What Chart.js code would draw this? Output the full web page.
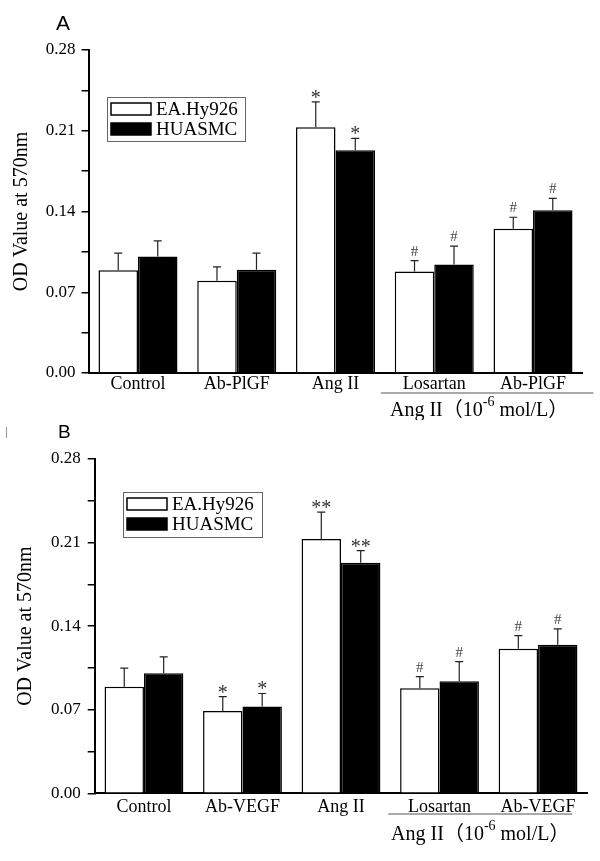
<!DOCTYPE html>
<html><head><meta charset="utf-8">
<script src="https://cdn.jsdelivr.net/npm/chart.js@4/dist/chart.umd.min.js"></script>
<style>
html,body{margin:0;padding:0;background:#fff;width:600px;height:861px;overflow:hidden}
.wrap{position:absolute;left:0;width:600px}
#wa{top:0;height:420px}
#wb{top:420px;height:441px}
canvas{display:block}
</style></head><body>
<div class="wrap" id="wa"><canvas id="ca" width="600" height="420"></canvas></div>
<div class="wrap" id="wb"><canvas id="cb" width="600" height="441"></canvas></div>
<script>
// ---------- data ----------
const seriesNames = ['EA.Hy926', 'HUASMC'];
const categoriesA = ['Control', 'Ab-PlGF', 'Ang II', 'Losartan', 'Ab-PlGF'];
const categoriesB = ['Control', 'Ab-VEGF', 'Ang II', 'Losartan', 'Ab-VEGF'];
const yTicks = [0.00, 0.07, 0.14, 0.21, 0.28];
const yTitle = 'OD Value at 570nm';
const groupLabel = ['Ang II（10', '-6', ' mol/L）'];

const eaA    = [0.089, 0.080, 0.213, 0.088, 0.125];
const eaAErr = [0.015, 0.012, 0.022, 0.0095, 0.010];
const huA    = [0.101, 0.0895, 0.193, 0.094, 0.141];
const huAErr = [0.0135, 0.0145, 0.0104, 0.016, 0.0104];
const eaASig = ['', '', '*', '#', '#'];
const huASig = ['', '', '*', '#', '#'];

const eaB    = [0.0893, 0.069, 0.2129, 0.088, 0.121];
const eaBErr = [0.0155, 0.012, 0.0226, 0.0097, 0.011];
const huB    = [0.1006, 0.0726, 0.193, 0.0939, 0.1245];
const huBErr = [0.0136, 0.011, 0.0103, 0.0164, 0.0132];
const eaBSig = ['', '*', '**', '#', '#'];
const huBSig = ['', '*', '**', '#', '#'];

const SERIF = "'Liberation Serif','Times New Roman',serif";

function decor(cfg) {
  return {
    id: 'decor',
    afterDatasetsDraw(chart) {
      const ctx = chart.ctx, y = chart.scales.y;
      chart.data.datasets.forEach((ds, di) => {
        const meta = chart.getDatasetMeta(di);
        meta.data.forEach((bar, i) => {
          const v = ds.data[i], e = cfg.errs[di][i];
          const yb = y.getPixelForValue(v), yt = y.getPixelForValue(v + e);
          ctx.save();
          ctx.strokeStyle = '#222'; ctx.lineWidth = 1.2;
          ctx.beginPath();
          ctx.moveTo(bar.x, yb); ctx.lineTo(bar.x, yt);
          ctx.moveTo(bar.x - 4, yt); ctx.lineTo(bar.x + 4, yt);
          ctx.stroke();
          const s = cfg.sig[di][i];
          if (s) {
            ctx.fillStyle = '#333';
            ctx.textAlign = 'center';
            ctx.textBaseline = 'alphabetic';
            if (s.indexOf('*') >= 0) {
              ctx.font = '20px ' + SERIF;
              ctx.fillText(s, bar.x, yt + 2);
            } else {
              ctx.fillStyle = '#444';
              ctx.font = '15px ' + SERIF;
              ctx.fillText(s, bar.x, yt - 5);
            }
          }
          ctx.restore();
        });
      });
    },
    afterDraw(chart) {
      const ctx = chart.ctx, x = chart.scales.x;
      ctx.save();
      // legend
      const L = cfg.legend;
      ctx.strokeStyle = '#666'; ctx.lineWidth = 1;
      ctx.strokeRect(L.x + 0.5, L.y + 0.5, L.w, L.h);
      chart.data.datasets.forEach((ds, di) => {
        const ry = L.y + 6 + di * 20;
        ctx.fillStyle = ds.backgroundColor;
        ctx.fillRect(L.x + 4, ry, 40, 12);
        ctx.strokeStyle = '#000'; ctx.lineWidth = 1.5;
        ctx.strokeRect(L.x + 4, ry, 40, 12);
        ctx.fillStyle = '#000';
        ctx.font = '19px ' + SERIF;
        ctx.textAlign = 'left'; ctx.textBaseline = 'middle';
        ctx.fillText(ds.label, L.x + 49, ry + 7);
      });
      // group line + label
      const cw = (x.right - x.left) / chart.data.labels.length;
      const x0 = x.getPixelForValue(3) - cw / 2 + cfg.lineL;
      const x1 = x.right + cfg.lineR;
      ctx.strokeStyle = '#555'; ctx.lineWidth = 1.2;
      ctx.beginPath(); ctx.moveTo(x0, cfg.lineY); ctx.lineTo(x1, cfg.lineY); ctx.stroke();
      const mainFont = "20px 'Liberation Serif','Noto Sans CJK SC',serif";
      const supFont = "14px 'Liberation Serif',serif";
      ctx.font = mainFont; const w1 = ctx.measureText(groupLabel[0]).width;
      const w3 = ctx.measureText(groupLabel[2]).width;
      ctx.font = supFont; const w2 = ctx.measureText(groupLabel[1]).width;
      let sx = (x0 + x1) / 2 + cfg.subOff - (w1 + w2 + w3) / 2;
      ctx.fillStyle = '#000'; ctx.textAlign = 'left'; ctx.textBaseline = 'alphabetic';
      ctx.font = mainFont; ctx.fillText(groupLabel[0], sx, cfg.subY); sx += w1;
      ctx.font = supFont; ctx.fillText(groupLabel[1], sx, cfg.subY - 10); sx += w2;
      ctx.font = mainFont; ctx.fillText(groupLabel[2], sx, cfg.subY);
      // panel letter
      ctx.font = cfg.letterSize + "px 'Liberation Sans',Arial,sans-serif";
      ctx.fillText(cfg.letter, cfg.letterX, cfg.letterY);
      if (cfg.stray) {
        ctx.strokeStyle = '#999'; ctx.lineWidth = 1;
        ctx.beginPath(); ctx.moveTo(6.5, 7); ctx.lineTo(6.5, 18); ctx.stroke();
      }
      ctx.restore();
    }
  };
}

function makeChart(id, labels, ea, hu, o) {
  return new Chart(document.getElementById(id), {
    type: 'bar',
    data: {
      labels: labels,
      datasets: [
        { label: seriesNames[0], data: ea, backgroundColor: '#ffffff', borderColor: '#000', borderWidth: 1.5 },
        { label: seriesNames[1], data: hu, backgroundColor: '#000000', borderColor: '#000', borderWidth: 1.5 }
      ]
    },
    options: {
      responsive: false, animation: false, devicePixelRatio: 1,
      layout: { padding: { left: 0, top: o.top, right: o.right, bottom: 0 } },
      plugins: { legend: { display: false }, tooltip: { enabled: false } },
      datasets: { bar: { categoryPercentage: 0.8, barPercentage: 1.0 } },
      scales: {
        x: {
          grid: { display: true, drawOnChartArea: false, drawTicks: false },
          border: { display: true, color: '#000', width: 2 },
          ticks: { color: '#000', font: { family: SERIF, size: 18 }, padding: o.xpad, autoSkip: false, maxRotation: 0 },
          afterFit(s) { s.height = o.xh; }
        },
        y: {
          min: 0, max: 0.28,
          grid: { display: true, drawOnChartArea: false, drawTicks: true, tickLength: 7, color: '#000', tickColor: '#000', lineWidth: 1.5 },
          border: { display: true, color: '#000', width: 2 },
          ticks: {
            stepSize: 0.035, autoSkip: false, color: '#000', padding: o.ypad,
            font: { family: SERIF, size: 17 },
            callback: (v, i) => (i % 2 === 0 ? yTicks[i / 2].toFixed(2) : '')
          },
          title: { display: true, text: yTitle, color: '#000', font: { family: SERIF, size: 20 }, padding: { top: o.tpad, bottom: 0 } },
          afterFit(s) { s.width = o.yw; }
        }
      }
    },
    plugins: [decor(o)]
  });
}

makeChart('ca', categoriesA, eaA, huA, {
  top: 50, right: 17.6, xh: 47, yw: 88.6, xpad: 0, ypad: 6, tpad: 10,
  errs: [eaAErr, huAErr], sig: [eaASig, huASig],
  legend: { x: 107, y: 97, w: 138, h: 44 },
  lineY: 393, lineL: -4, lineR: 11, subOff: -8, subY: 416,
  letter: 'A', letterSize: 21, letterX: 56, letterY: 30, stray: false
});
makeChart('cb', categoriesB, eaB, huB, {
  top: 39, right: 12.7, xh: 67.7, yw: 94.7, xpad: 3, ypad: 7, tpad: 14,
  errs: [eaBErr, huBErr], sig: [eaBSig, huBSig],
  legend: { x: 123, y: 72, w: 139, h: 45 },
  lineY: 394, lineL: -2, lineR: -15, subOff: 0, subY: 420,
  letter: 'B', letterSize: 19, letterX: 58, letterY: 18, stray: true
});
</script>
</body></html>
